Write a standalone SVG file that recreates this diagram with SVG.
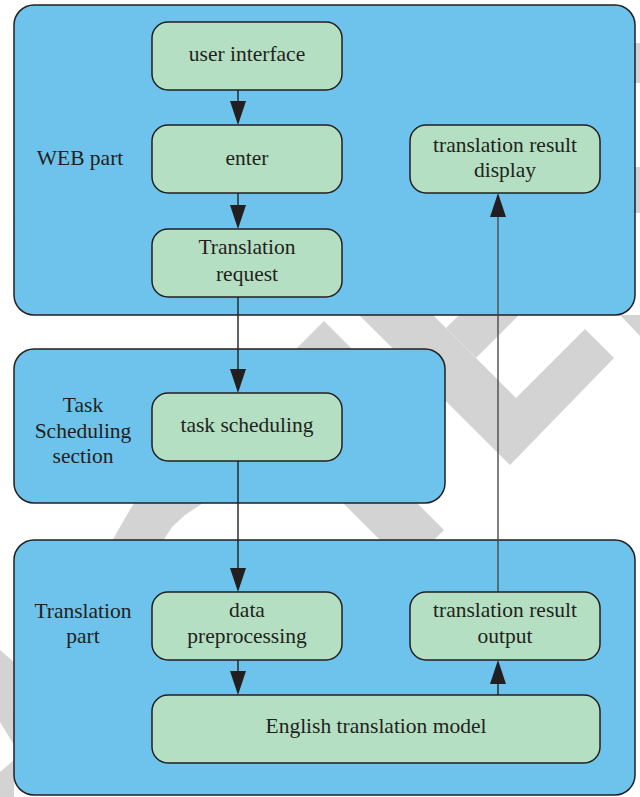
<svg xmlns="http://www.w3.org/2000/svg" width="640" height="797" viewBox="0 0 640 797">
<style>
.wm{fill:#d3d3d3}
.grp{fill:#6dc3ec;stroke:#231f20;stroke-width:1.5}
.nd{fill:#b5dfc2;stroke:#231f20;stroke-width:1.5}
.t{font-family:"Liberation Serif","Times New Roman",serif;font-size:21.5px;fill:#231f20;text-anchor:middle}
.c{stroke:#231f20;stroke-width:1.4;fill:none}
.cg{stroke:#4a4a4a;stroke-width:1.4;fill:none}
.ah{fill:#231f20}
</style>
<rect width="640" height="797" fill="#ffffff"/>
<g id="watermark">
<polygon class="wm" points="324,321 280,365 368,365"/>
<polygon class="wm" points="344,300 418,300 516,398 585,329 614,358 510,465"/>
<polygon class="wm" points="474,300 534,300 476,358 446,328"/>
<polygon class="wm" points="620,315 640,315 640,336"/>
<polygon class="wm" points="112,541 124,520 134,503 203,503 185,515 172,527 163,541"/>
<polygon class="wm" points="340,500 414,500 444,530 434,540 380,540"/>
<polygon class="wm" points="0,650 14,662 14,745 0,722"/>
<polygon class="wm" points="0,772 14,760 14,797 0,797"/>
<rect class="wm" x="630" y="43" width="10" height="40"/>
<rect class="wm" x="630" y="167" width="10" height="46"/>
</g>
<g id="web-part">
<rect class="grp" x="14" y="5" width="621" height="310" rx="20"/>
<text class="t" x="80" y="165">WEB part</text>
</g>
<g id="task-section">
<rect class="grp" x="14" y="349" width="431" height="154" rx="20"/>
<text class="t" x="83" y="412">Task</text>
<text class="t" x="83" y="438">Scheduling</text>
<text class="t" x="83" y="463">section</text>
</g>
<g id="translation-part">
<rect class="grp" x="14" y="540" width="621" height="255" rx="20"/>
<text class="t" x="83" y="618">Translation</text>
<text class="t" x="83" y="643">part</text>
</g>
<g id="connectors">
<line class="c" x1="238" y1="90" x2="238" y2="110"/>
<polygon class="ah" points="230,101 246,101 238,125"/>
<line class="c" x1="238" y1="193" x2="238" y2="214"/>
<polygon class="ah" points="230,205 246,205 238,229"/>
<line class="c" x1="238" y1="297" x2="238" y2="378"/>
<polygon class="ah" points="230,369 246,369 238,393"/>
<line class="c" x1="238" y1="461" x2="238" y2="577"/>
<polygon class="ah" points="230,568 246,568 238,592"/>
<line class="c" x1="238" y1="660" x2="238" y2="680"/>
<polygon class="ah" points="230,671 246,671 238,695"/>
<line class="cg" x1="498" y1="592" x2="498" y2="208"/>
<polygon class="ah" points="490,217 506,217 498,193"/>
<line class="c" x1="498" y1="695" x2="498" y2="675"/>
<polygon class="ah" points="490,684 506,684 498,660"/>
</g>
<g id="user-interface">
<rect class="nd" x="152" y="22" width="190" height="68" rx="16"/>
<text class="t" x="247" y="61">user interface</text>
</g>
<g id="enter">
<rect class="nd" x="152" y="125" width="190" height="68" rx="16"/>
<text class="t" x="247" y="165">enter</text>
</g>
<g id="translation-request">
<rect class="nd" x="152" y="229" width="190" height="68" rx="16"/>
<text class="t" x="247" y="254">Translation</text>
<text class="t" x="247" y="281">request</text>
</g>
<g id="translation-result-display">
<rect class="nd" x="410" y="125" width="190" height="68" rx="16"/>
<text class="t" x="505" y="152">translation result</text>
<text class="t" x="505" y="177">display</text>
</g>
<g id="task-scheduling">
<rect class="nd" x="152" y="393" width="190" height="68" rx="16"/>
<text class="t" x="247" y="432">task scheduling</text>
</g>
<g id="data-preprocessing">
<rect class="nd" x="152" y="592" width="190" height="68" rx="16"/>
<text class="t" x="247" y="617">data</text>
<text class="t" x="247" y="643">preprocessing</text>
</g>
<g id="translation-result-output">
<rect class="nd" x="410" y="592" width="190" height="68" rx="16"/>
<text class="t" x="505" y="617">translation result</text>
<text class="t" x="505" y="643">output</text>
</g>
<g id="english-translation-model">
<rect class="nd" x="152" y="695" width="448" height="68" rx="16"/>
<text class="t" x="376" y="733">English translation model</text>
</g>
</svg>
